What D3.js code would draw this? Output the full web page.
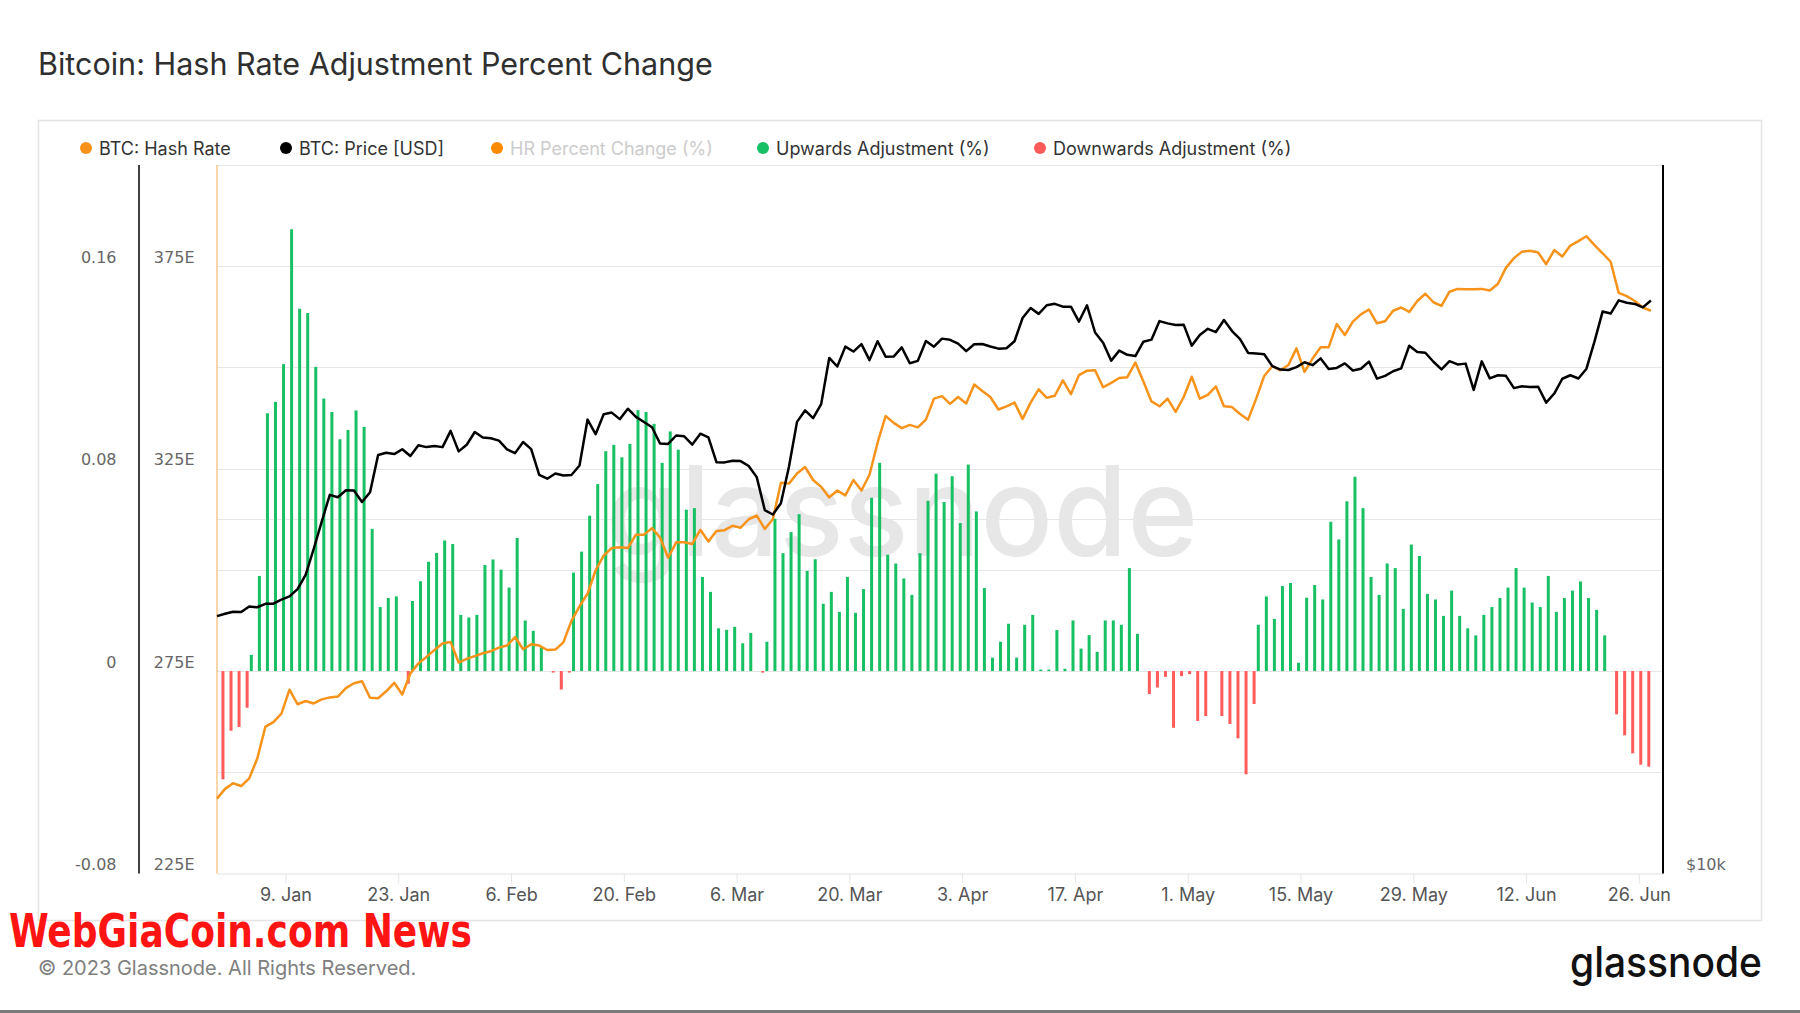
<!DOCTYPE html>
<html><head><meta charset="utf-8">
<script src="https://cdn.jsdelivr.net/npm/d3@7"></script>
<style>
html,body{margin:0;padding:0;background:#fff;}
svg{display:block;font-family:Inter,"Noto Sans",sans-serif;}
</style></head><body>
<svg id="chart" width="1800" height="1013"></svg>
<script>
// ---------- data ----------
const startDate = "2022-12-31"; // first daily point, one value per day after
const hashRate = [
243.5,245.9,247.3,246.6,248.5,253.4,261.2,262.4,264.5,270.4,266.8,267.6,267.0,268.0,268.5,268.7,270.8,272.0,272.5,268.4,
268.3,270.0,272.1,269.2,274.4,276.9,278.5,280.2,281.8,282.2,277.1,278.0,278.7,279.4,279.9,280.8,281.3,283.4,280.4,281.6,
281.3,280.2,280.3,282.1,287.4,291.0,294.1,299.9,303.5,305.4,305.6,305.4,308.7,308.7,310.3,308.0,303.0,306.8,306.8,306.4,
309.9,307.0,309.6,309.8,310.9,310.4,312.5,313.4,310.1,312.5,321.5,321.3,323.8,325.4,322.2,320.5,317.9,319.6,318.4,322.2,
319.6,323.5,331.4,338.0,336.3,335.0,335.8,335.2,337.1,342.3,342.9,341.0,342.7,341.1,345.8,344.2,342.7,339.6,340.4,341.3,
337.3,341.3,344.6,342.5,343.0,346.8,343.4,348.1,349.2,349.3,345.1,346.2,347.4,347.6,351.2,346.5,341.6,340.4,342.3,339.0,
342.7,347.7,342.3,343.2,345.3,340.4,340.2,338.5,337.1,342.3,347.9,350.3,349.3,350.6,354.7,348.9,352.2,355.0,355.0,360.7,
358.0,361.3,363.1,364.3,360.9,361.4,364.0,364.8,363.7,366.4,368.2,366.1,365.2,368.7,369.4,369.3,369.3,369.4,369.0,370.6,
374.6,377.0,378.6,378.8,378.4,375.5,379.0,377.4,380.1,381.2,382.4,380.2,378.2,376.1,368.4,367.6,366.4,364.8,364.0
];
const price = [
16547,16625,16688,16680,16863,16836,16951,16955,17092,17196,17446,17934,18869,19910,20977,20880,21170,21161,20688,21086,
22677,22777,22721,22934,22636,23117,23032,23078,23031,23775,22840,23139,23724,23472,23432,23327,22933,22763,23264,22939,
21819,21651,21871,21788,21809,22220,24307,23623,24565,24641,24327,24829,24437,24189,23947,23198,23175,23561,23522,23147,
23646,23475,22362,22354,22429,22410,22197,21718,20363,20187,20633,22163,24197,24746,24375,25052,27423,26966,28038,27767,
28175,27307,28333,27493,27494,27994,27139,27268,28348,28033,28478,28411,28199,27790,28168,28177,28044,27925,27947,28333,
29653,30235,29892,30400,30485,30318,30315,29445,30397,28822,28245,27276,27817,27591,27525,28307,28422,29473,29340,29248,
29268,28091,28680,29031,28848,29534,28904,28454,27695,27658,27621,26987,26805,26784,26931,27192,27036,27398,26833,26890,
27129,26754,26851,27226,26334,26476,26719,26869,28086,27745,27703,27219,26819,27249,27075,27119,25760,27238,26346,26508,
26480,25851,25940,25902,25918,25125,25577,26328,26510,26340,26851,28327,30027,29912,30695,30548,30480,30271,30688
];
const upwards = [
null,null,null,null,0.0064,0.0376,0.1019,0.1064,0.1213,0.1746,0.1432,0.1415,0.1202,0.1077,0.1024,0.0916,0.0953,0.1030,0.0965,0.0562,
0.0253,0.0289,0.0295,null,0.0277,0.0355,0.0432,0.0467,0.0516,0.0502,0.0222,0.0212,0.0222,0.0419,0.0441,0.0401,0.0330,0.0526,0.0200,0.0159,
0.0094,null,null,null,0.0389,0.0472,0.0614,0.0739,0.0869,0.0894,0.0845,0.0898,0.1031,0.1024,0.0977,0.0823,0.0947,0.0875,0.0638,0.0644,
0.0372,0.0313,0.0169,0.0163,0.0175,0.0110,0.0151,null,0.0116,0.0602,0.0466,0.0549,0.0620,0.0396,0.0442,0.0266,0.0313,0.0234,0.0372,0.0230,
0.0324,0.0685,0.0823,0.0460,0.0425,0.0366,0.0301,0.0466,0.0673,0.0780,0.0668,0.0770,0.0585,0.0816,0.0631,0.0328,0.0053,0.0116,0.0187,0.0053,
0.0183,0.0222,0.0006,0.0006,0.0162,0.0009,0.0200,0.0089,0.0142,0.0076,0.0200,0.0200,0.0183,0.0407,0.0147,null,null,null,null,null,
null,null,null,null,null,null,null,null,null,0.0183,0.0295,0.0206,0.0336,0.0348,0.0033,0.0290,0.0340,0.0283,0.0590,0.0520,
0.0671,0.0768,0.0644,0.0372,0.0301,0.0425,0.0407,0.0246,0.0500,0.0455,0.0305,0.0283,0.0218,0.0318,0.0218,0.0169,0.0141,0.0222,0.0253,0.0289,
0.0330,0.0407,0.0330,0.0271,0.0253,0.0376,0.0234,0.0289,0.0318,0.0354,0.0289,0.0242,0.0141,null,null,null,null,null,null
];
const downwards = [
["2023-01-01",-0.0428],["2023-01-02",-0.0236],["2023-01-03",-0.0221],["2023-01-04",-0.0145],
["2023-01-24",-0.0050],["2023-02-11",-0.0006],["2023-02-12",-0.0073],["2023-02-13",-0.0006],
["2023-03-09",-0.0006],["2023-04-26",-0.0091],["2023-04-27",-0.0065],["2023-04-28",-0.0023],
["2023-04-29",-0.0224],["2023-04-30",-0.0020],["2023-05-01",-0.0012],["2023-05-02",-0.0197],
["2023-05-03",-0.0178],["2023-05-05",-0.0178],["2023-05-06",-0.0209],["2023-05-07",-0.0266],
["2023-05-08",-0.0408],["2023-05-09",-0.0130],["2023-06-23",-0.0171],["2023-06-24",-0.0254],
["2023-06-25",-0.0325],["2023-06-26",-0.0370],["2023-06-27",-0.0378]
];
const xTicks = ["2023-01-09","2023-01-23","2023-02-06","2023-02-20","2023-03-06","2023-03-20","2023-04-03",
                "2023-04-17","2023-05-01","2023-05-15","2023-05-29","2023-06-12","2023-06-26"];
const pctTicks = [0.16, 0.08, 0, -0.08];
const hashTicks = [375, 325, 275, 225];
const hashGrid = [250, 300, 350, 400];
const pctGrid = [0, 0.08, 0.16];
const priceTicks = [10000];
const priceGrid = [20000];
const legendItems = [
  {name:"BTC: Hash Rate", color:"#f7931a", hidden:false},
  {name:"BTC: Price [USD]", color:"#000000", hidden:false},
  {name:"HR Percent Change (%)", color:"#ff8a00", hidden:true},
  {name:"Upwards Adjustment (%)", color:"#17c063", hidden:false},
  {name:"Downwards Adjustment (%)", color:"#ff5b5b", hidden:false}
];

// ---------- chart ----------
const svg = d3.select("#chart");
const parse = d3.utcParse("%Y-%m-%d");
const start = parse(startDate);
const dates = d3.range(hashRate.length).map(i => d3.utcDay.offset(start, i));
const pos = d => d3.utcHour.offset(d, 12);
const P = {left:217, right:1663, top:165, bottom:873.5};

const x = d3.scaleUtc().domain([pos(dates[0]), parse("2023-06-29")]).range([P.left, P.right]);
const yPct = d3.scaleLinear().domain([-0.08, 0.2]).range([P.bottom, P.top]);
const yHash = d3.scaleLinear().domain([225, 400]).range([P.bottom, P.top]);
const yPrice = d3.scaleLog().domain([10000, 40000]).range([P.bottom, P.top]);

// title
svg.append("text").attr("x",38).attr("y",75).attr("font-size",30.5).attr("fill","#2f2f2f")
  .text("Bitcoin: Hash Rate Adjustment Percent Change");

// frame
svg.append("rect").attr("x",38.5).attr("y",120.5).attr("width",1723).attr("height",800)
  .attr("fill","none").attr("stroke","#e4e4e4").attr("stroke-width",1.5);

// legend
const lx = [86, 286, 497, 763, 1040];
const lg = svg.append("g");
legendItems.forEach((it,i)=>{
  lg.append("circle").attr("cx",lx[i]).attr("cy",148).attr("r",6).attr("fill",it.color);
  lg.append("text").attr("x",lx[i]+13).attr("y",154.5).attr("font-size",18)
    .attr("fill", it.hidden ? "#cccccc" : "#333333").text(it.name);
});

// gridlines
const grid = svg.append("g").attr("stroke","#e6e6e6").attr("stroke-width",1);
const gy = [...hashGrid.map(v=>yHash(v)), ...pctGrid.map(v=>yPct(v)), ...priceGrid.map(v=>yPrice(v))];
gy.forEach(y=>grid.append("line").attr("x1",P.left).attr("x2",P.right)
  .attr("y1",Math.round(y)+0.5).attr("y2",Math.round(y)+0.5));

// watermark
svg.append("text").attr("x",606).attr("y",556).attr("font-size",125).attr("font-weight",500)
  .attr("fill","#e7e7e7").attr("textLength",592).attr("lengthAdjust","spacingAndGlyphs").text("glassnode");

// x axis
const xAxis = svg.append("g").attr("transform",`translate(0,${P.bottom})`)
  .call(d3.axisBottom(x).tickValues(xTicks.map(parse)).tickFormat(d3.utcFormat("%-d. %b"))
        .tickSize(10).tickPadding(5).tickSizeOuter(0));
xAxis.select(".domain").attr("stroke","#e0e0e0");
xAxis.selectAll(".tick line").attr("stroke","#e6e6e6");
xAxis.selectAll("text").attr("font-size",18).attr("fill","#555").attr("font-family","Inter");

// left / right value axes
const pctAxis = svg.append("g").attr("transform","translate(116.5,0)")
  .call(d3.axisLeft(yPct).tickValues(pctTicks).tickFormat(d=>String(d)).tickSize(0).tickPadding(0));
const hashAxis = svg.append("g").attr("transform","translate(194.5,0)")
  .call(d3.axisLeft(yHash).tickValues(hashTicks).tickFormat(d=>d+"E").tickSize(0).tickPadding(0));
const priceAxis = svg.append("g").attr("transform","translate(1686,0)")
  .call(d3.axisRight(yPrice).tickValues(priceTicks).tickFormat(d=>"$"+(d/1000)+"k").tickSize(0).tickPadding(0));
[pctAxis, hashAxis, priceAxis].forEach(a=>{
  a.select(".domain").remove();
  a.selectAll("text").attr("font-size",16).attr("fill","#666").attr("dy","-0.24em")
    .attr("font-family","'DejaVu Sans',Verdana,sans-serif");
});

// axis lines
svg.append("line").attr("x1",139).attr("x2",139).attr("y1",P.top).attr("y2",P.bottom).attr("stroke","#111").attr("stroke-width",1.6);
svg.append("line").attr("x1",P.left).attr("x2",P.left).attr("y1",P.top).attr("y2",P.bottom).attr("stroke","#f7931a").attr("stroke-opacity",0.5).attr("stroke-width",1.5);
svg.append("line").attr("x1",P.right).attr("x2",P.right).attr("y1",P.top).attr("y2",P.bottom).attr("stroke","#000").attr("stroke-width",2);

// bars
const bw = 3, off = 2.1;
const upData = upwards.map((v,i)=>({d:dates[i], v})).filter(o=>o.v!==null);
svg.append("g").selectAll("rect").data(upData).join("rect")
  .attr("x",o=>x(pos(o.d))+off-bw/2).attr("width",bw)
  .attr("y",o=>yPct(o.v)).attr("height",o=>Math.max(0,yPct(0)-yPct(o.v)))
  .attr("fill","#17c063");
svg.append("g").selectAll("rect").data(downwards).join("rect")
  .attr("x",o=>x(pos(parse(o[0])))-off-bw/2).attr("width",bw)
  .attr("y",yPct(0)).attr("height",o=>Math.max(0,yPct(o[1])-yPct(0)))
  .attr("fill","#ff5b5b");

// lines
svg.append("path").datum(hashRate).attr("fill","none").attr("stroke","#f7931a").attr("stroke-width",2.5)
  .attr("stroke-linejoin","round")
  .attr("d", d3.line().x((v,i)=>x(pos(dates[i]))).y(v=>yHash(v)));
svg.append("path").datum(price).attr("fill","none").attr("stroke","#000").attr("stroke-width",2.5)
  .attr("stroke-linejoin","round")
  .attr("d", d3.line().x((v,i)=>x(pos(dates[i]))).y(v=>yPrice(v)));

// footer
svg.append("text").attr("x",9).attr("y",947).attr("font-size",47).attr("font-weight",700)
  .attr("font-family","'Liberation Sans Narrow','DejaVu Sans Condensed',sans-serif")
  .attr("fill","#ff1414").attr("textLength",463).attr("lengthAdjust","spacingAndGlyphs").text("WebGiaCoin.com News");
svg.append("text").attr("x",38).attr("y",975).attr("font-size",20).attr("fill","#808080")
  .text("© 2023 Glassnode. All Rights Reserved.");
svg.append("text").attr("x",1570).attr("y",977).attr("font-size",42).attr("font-weight",500).attr("fill","#111")
  .attr("textLength",192).attr("lengthAdjust","spacingAndGlyphs").text("glassnode");
svg.append("rect").attr("x",0).attr("y",1010).attr("width",1800).attr("height",3).attr("fill","#7a7a7a");
</script>
</body></html>
